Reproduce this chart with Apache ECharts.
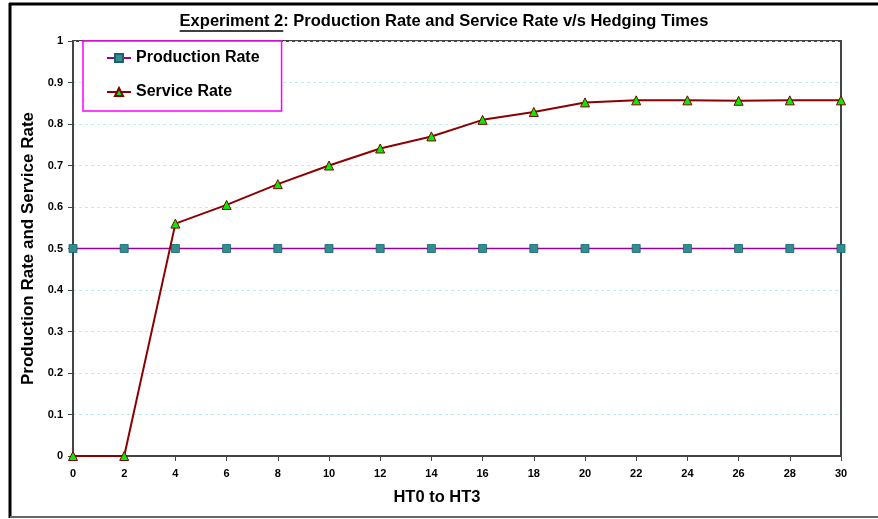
<!DOCTYPE html>
<html>
<head>
<meta charset="utf-8">
<script src="https://cdn.jsdelivr.net/npm/echarts@6/dist/echarts.min.js"></script>
<style>html,body{margin:0;padding:0;background:#fff;}#c{width:878px;height:519px;}</style>
</head>
<body>
<div id="c"></div>
<script>
const xValues = [0, 2, 4, 6, 8, 10, 12, 14, 16, 18, 20, 22, 24, 26, 28, 30];
const productionRate = [0.5, 0.5, 0.5, 0.5, 0.5, 0.5, 0.5, 0.5, 0.5, 0.5, 0.5, 0.5, 0.5, 0.5, 0.5, 0.5];
const serviceRate = [0, 0, 0.56, 0.605, 0.655, 0.70, 0.741, 0.77, 0.81, 0.829, 0.852, 0.857, 0.857, 0.856, 0.857, 0.857];
const titleUnderlined = 'Experiment 2';
const titleRest = ': Production Rate and Service Rate v/s Hedging Times';

const FONT = '"Liberation Sans", Arial, sans-serif';
const chart = echarts.init(document.getElementById('c'));

// measure title for underline
const TFS = 16.5;
const cv = document.createElement('canvas').getContext('2d');
cv.font = 'bold ' + TFS + 'px ' + FONT;
const w1 = cv.measureText(titleUnderlined).width;
const w2 = cv.measureText(titleRest).width;
const titleCx = 444;
const titleLeft = titleCx - (w1 + w2) / 2;
const titleY = 22;

chart.setOption({
  animation: false,
  backgroundColor: '#fff',
  grid: { left: 73, right: 37, top: 41, bottom: 63, show: true, borderColor: '#444', borderWidth: 2, backgroundColor: 'transparent' },
  legend: {
    left: 83, top: 41, orient: 'vertical',
    backgroundColor: '#fff', borderColor: '#ff00ff', borderWidth: 1.5,
    padding: [9, 22, 11, 23], itemGap: 18, itemWidth: 24, itemHeight: 10,
    textStyle: { fontFamily: FONT, fontWeight: 'bold', fontSize: 16, color: '#000' },
    data: ['Production Rate', 'Service Rate']
  },
  xAxis: {
    type: 'value', min: 0, max: 30, interval: 2,
    name: 'HT0 to HT3', nameLocation: 'middle', nameGap: 33,
    nameTextStyle: { fontFamily: FONT, fontWeight: 'bold', fontSize: 16.5, color: '#000', padding: [0, 40, 0, 0] },
    axisLine: { lineStyle: { color: '#444', width: 2 } },
    axisTick: { show: true, length: 5, lineStyle: { color: '#444' } },
    axisLabel: { fontFamily: FONT, fontWeight: 'bold', fontSize: 11, color: '#000', margin: 12 },
    splitLine: { show: false }
  },
  yAxis: {
    type: 'value', min: 0, max: 1, interval: 0.1,
    name: 'Production Rate and Service Rate', nameLocation: 'middle', nameGap: 34,
    nameTextStyle: { fontFamily: FONT, fontWeight: 'bold', fontSize: 17, color: '#000' },
    axisLine: { show: true, lineStyle: { color: '#444', width: 2 } },
    axisTick: { show: true, length: 5, lineStyle: { color: '#444' } },
    axisLabel: { fontFamily: FONT, fontWeight: 'bold', fontSize: 11, color: '#000', margin: 10,
      formatter: v => String(Math.round(v * 10) / 10) },
    splitLine: { show: true, lineStyle: { color: '#b8f0f0', type: [3, 3], width: 1 } }
  },
  series: [
    {
      name: 'Production Rate', type: 'line',
      data: xValues.map((x, i) => [x, productionRate[i]]),
      symbol: 'rect', symbolSize: 8,
      lineStyle: { color: '#990099', width: 1.5 },
      itemStyle: { color: '#2f8f8f', borderColor: '#1c5f6f', borderWidth: 0.8 },
      z: 3
    },
    {
      name: 'Service Rate', type: 'line',
      data: xValues.map((x, i) => [x, serviceRate[i]]),
      symbol: 'triangle', symbolSize: 9,
      lineStyle: { color: '#8b0000', width: 2 },
      itemStyle: { color: '#00ee00', borderColor: '#800000', borderWidth: 1 },
      z: 4
    }
  ],
  graphic: [
    { type: 'line', shape: { x1: 9, y1: 4, x2: 878, y2: 4 }, style: { stroke: '#000', lineWidth: 3 } },
    { type: 'line', shape: { x1: 10, y1: 3, x2: 10, y2: 518 }, style: { stroke: '#000', lineWidth: 3 } },
    { type: 'line', shape: { x1: 10, y1: 517, x2: 878, y2: 517 }, style: { stroke: '#666', lineWidth: 2 } },
    { type: 'text', left: titleLeft, top: titleY - 9,
      style: { text: titleUnderlined, font: 'bold ' + TFS + 'px ' + FONT, fill: '#000' } },
    { type: 'text', left: titleLeft + w1, top: titleY - 9,
      style: { text: titleRest, font: 'bold ' + TFS + 'px ' + FONT, fill: '#000' } },
    { type: 'line', shape: { x1: titleLeft, y1: titleY + 9, x2: titleLeft + w1, y2: titleY + 9 }, style: { stroke: '#000', lineWidth: 1.3 } }
  ]
});
</script>
</body>
</html>
